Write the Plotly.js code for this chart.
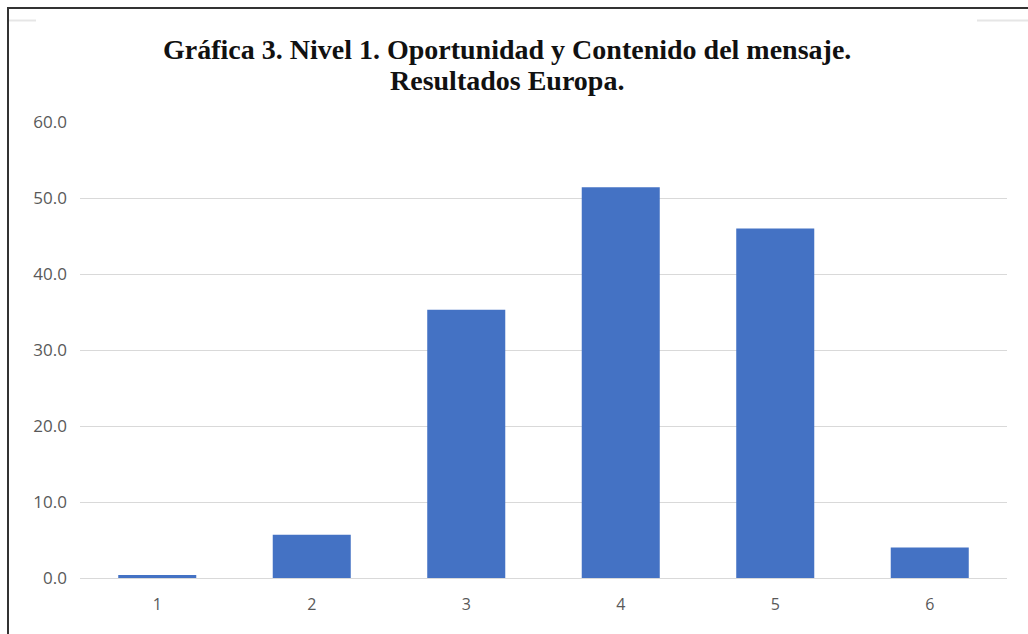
<!DOCTYPE html>
<html>
<head>
<meta charset="utf-8">
<script src="https://cdn.plot.ly/plotly-3.0.1.min.js"></script>
<style>
html,body{margin:0;padding:0;background:#fff;}
#chart{width:1028px;height:634px;}
</style>
</head>
<body>
<div id="chart"></div>
<script>
const categories = ["1", "2", "3", "4", "5", "6"];
const values = [0.4, 5.7, 35.3, 51.4, 46.0, 4.0];
const yTickVals = [0, 10, 20, 30, 40, 50, 60];
const yTickText = ["0.0", "10.0", "20.0", "30.0", "40.0", "50.0", "60.0"];
const titleLines = ["Gráfica 3. Nivel 1. Oportunidad y Contenido del mensaje.", "Resultados Europa."];

// helpers to place decoration in paper coords from pixel positions
const L = 80, R = 21, T = 122, B = 56, W = 1028, H = 634;
const pw = W - L - R, ph = H - T - B;
const px = x => (x - L) / pw;
const py = y => (H - B - y) / ph;

const data = [{
  type: "bar",
  x: categories,
  y: values,
  marker: {color: "#4472c4", line: {width: 0}},
  hoverinfo: "x+y"
}];

const titleFont = {family: "Liberation Serif, serif", size: 28, color: "#111111", weight: "bold"};

const layout = {
  width: W, height: H,
  margin: {l: L, r: R, t: T, b: B, pad: 0},
  paper_bgcolor: "#ffffff",
  plot_bgcolor: "#ffffff",
  bargap: 0.495,
  showlegend: false,
  annotations: [
    {text: titleLines[0], xref: "paper", yref: "paper", x: px(507), y: py(50), xanchor: "center", yanchor: "middle", showarrow: false, font: titleFont},
    {text: titleLines[1], xref: "paper", yref: "paper", x: px(507), y: py(80), xanchor: "center", yanchor: "middle", showarrow: false, font: titleFont}
  ],
  xaxis: {
    type: "category",
    showgrid: false, zeroline: false, showline: false,
    ticks: "", ticklabelstandoff: 15,
    tickfont: {family: "Open Sans, sans-serif", size: 16, color: "#595959"}
  },
  yaxis: {
    range: [0, 60],
    tickvals: yTickVals, ticktext: yTickText,
    showgrid: true, gridcolor: "#d9d9d9", gridwidth: 1,
    zeroline: true, zerolinecolor: "#d9d9d9", zerolinewidth: 1,
    showline: false, ticks: "", ticklabelstandoff: 12,
    tickfont: {family: "Open Sans, sans-serif", size: 17, color: "#595959"}
  },
  shapes: [
    {type: "line", xref: "paper", yref: "paper", x0: px(8), x1: px(8), y0: py(7), y1: py(640), line: {color: "#333333", width: 2}},
    {type: "line", xref: "paper", yref: "paper", x0: px(7), x1: px(1030), y0: py(8), y1: py(8), line: {color: "#333333", width: 2}},
    {type: "line", xref: "paper", yref: "paper", x0: px(9), x1: px(36), y0: py(20.5), y1: py(20.5), line: {color: "#e6e6e6", width: 2}},
    {type: "line", xref: "paper", yref: "paper", x0: px(977), x1: px(1030), y0: py(20.5), y1: py(20.5), line: {color: "#e6e6e6", width: 2}}
  ]
};

Plotly.newPlot("chart", data, layout, {displayModeBar: false, staticPlot: true});
</script>
</body>
</html>
